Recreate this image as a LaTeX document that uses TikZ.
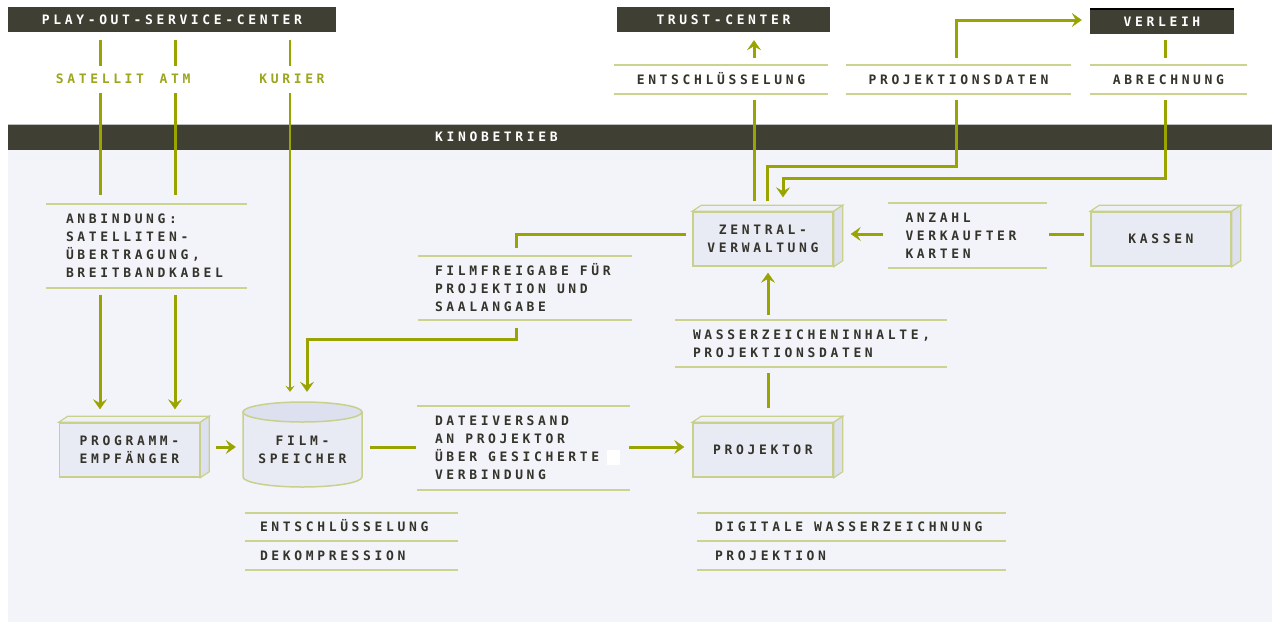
\documentclass[tikz,border=0pt]{standalone}
\usepackage{fontspec}
\newfontfamily\pix[LetterSpace=28]{DejaVu Sans Mono}
\usetikzlibrary{arrows.meta}

\definecolor{band}{HTML}{3F4033}
\definecolor{olive}{HTML}{9AA400}
\definecolor{olivetext}{HTML}{9CA61E}
\definecolor{rulecol}{HTML}{CBD38E}
\definecolor{kinobg}{HTML}{F3F4FA}
\definecolor{front}{HTML}{E9EBF4}
\definecolor{cubetopc}{HTML}{EEF0F7}
\definecolor{cubesidec}{HTML}{DDE0EE}
\definecolor{boxline}{HTML}{C9D08C}
\definecolor{ink}{HTML}{34342C}

% word gap for the tracked lettering
\newcommand\gap{\hspace*{11pt}}
% top and bottom rule of a text block
\newcommand\rules[1]{%
  \draw[rulestroke] (#1.north west) -- (#1.north east);
  \draw[rulestroke] (#1.south west) -- (#1.south east);}
% top and side faces of a box drawn in perspective
\newcommand\cubefaces[1]{%
  \filldraw[cubetop] (#1.north west) -- ([shift={(9,-6)}]#1.north west)
    -- ([shift={(9,-6)}]#1.north east) -- (#1.north east) -- cycle;
  \filldraw[cubeside] (#1.north east) -- ([shift={(9,-6)}]#1.north east)
    -- ([shift={(9,-6)}]#1.south east) -- (#1.south east) -- cycle;}

\begin{document}
\begin{tikzpicture}[x=1pt,y=-1pt,
  font=\pix\bfseries\fontsize{13}{18}\selectfont,
  every node/.style={text=ink},
  flow/.style={draw=olive, line width=3pt},
  thinflow/.style={draw=olive, line width=1.6pt},
  arr/.style={flow, -{Stealth[length=10pt,width=14pt,inset=4pt,line width=0.5pt]}},
  thinarr/.style={thinflow, -{Stealth[length=6pt,width=9pt,inset=2.5pt,line width=0.4pt]}},
  head/.style={fill=band, text=white, minimum height=25pt, inner sep=0pt, text height=9pt, text depth=0pt},
  lab/.style={text=olivetext, inner sep=0pt, text height=9pt, text depth=0pt},
  rulestroke/.style={draw=rulecol, line width=2.5pt},
  ruled/.style={inner ysep=0pt, align=left},
  oneline/.style={inner ysep=0pt, text height=9pt, text depth=0pt},
  cube/.style={draw=boxline, fill=front, line width=1.5pt, minimum width=140pt,
    minimum height=54pt, align=center, inner sep=0pt},
  cubetop/.style={draw=boxline, fill=cubetopc, line width=1.2pt},
  cubeside/.style={draw=boxline, fill=cubesidec, line width=1.2pt}]

\useasboundingbox (0,0) rectangle (1272,624);
\fill[white] (0,0) rectangle (1272,624);

% cinema area
\fill[kinobg] (8,150) rectangle (1272,622);
\draw[black!25, line width=1pt] (8,124.5) -- (1272,124.5);
\fill[band] (8,125) rectangle (1272,150);
\node[anchor=west, text=white, inner sep=0pt, text height=9pt, text depth=0pt] (kino) at (435,137) {KINOBETRIEB};

% external parties
\node[head, minimum width=328pt] (pos) at (172,19.5) {PLAY-OUT-SERVICE-CENTER};
\node[head, minimum width=213pt] (trust) at (723.5,19.5) {TRUST-CENTER};
\node[head, minimum width=144pt] (verleih) at (1162,21.5) {VERLEIH};
\draw[black, line width=1.5pt] (verleih.north west) -- (verleih.north east);

% delivery channels
\node[lab] (sat) at (100,79) {SATELLIT};
\node[lab] (atm) at (175,79) {ATM};
\node[lab] (kur) at (292,79) {KURIER};

% ruled text blocks
\node[oneline, minimum width=214pt, minimum height=29pt] (ents) at (721,79.5) {ENTSCHLÜSSELUNG};
\node[oneline, minimum width=225pt, minimum height=29pt] (projd) at (958.5,79.5) {PROJEKTIONSDATEN};
\node[oneline, minimum width=157pt, minimum height=29pt] (abr) at (1168.5,79.5) {ABRECHNUNG};
\rules{ents} \rules{projd} \rules{abr}

\node[ruled, text width=170pt, inner xsep=18pt, minimum height=84pt] (anb) at (151,246)
  {ANBINDUNG:\\SATELLITEN-\\ÜBERTRAGUNG,\\BREITBANDKABEL};
\node[ruled, text width=190pt, inner xsep=17pt, minimum height=64pt] (ffg) at (530,288)
  {FILMFREIGABE\gap FÜR\\PROJEKTION\gap UND\\SAALANGABE};
\node[ruled, text width=190pt, inner xsep=18pt, minimum height=84pt] (dv) at (530,448)
  {DATEIVERSAND\\AN\gap PROJEKTOR\\ÜBER\gap GESICHERTE\\VERBINDUNG};
\node[ruled, text width=236pt, inner xsep=18pt, minimum height=47pt] (wz) at (811,343.5)
  {WASSERZEICHENINHALTE,\\PROJEKTIONSDATEN};
\node[ruled, text width=124pt, inner xsep=17.5pt, minimum height=65pt] (anz) at (967.5,235.5)
  {ANZAHL\\VERKAUFTER\\KARTEN};
\draw[rulestroke] (46,204) -- (247,204); \draw[rulestroke] (46,288) -- (247,288);
\draw[rulestroke] (418,256) -- (632,256); \draw[rulestroke] (418,320) -- (632,320);
\draw[rulestroke] (417,406) -- (630,406); \draw[rulestroke] (417,490) -- (630,490);
\rules{wz} \rules{anz}
\fill[white] (607,450) rectangle (620,465);

\node[oneline, text width=183pt, inner xsep=15pt, minimum height=28pt, align=left] (dec1) at (351.5,527) {ENTSCHLÜSSELUNG};
\node[oneline, text width=183pt, inner xsep=15pt, minimum height=29pt, align=left] (dec2) at (351.5,555.5) {DEKOMPRESSION};
\node[oneline, text width=273pt, inner xsep=18pt, minimum height=28pt, align=left] (pj1) at (851.5,527) {DIGITALE\gap WASSERZEICHNUNG};
\node[oneline, text width=273pt, inner xsep=18pt, minimum height=29pt, align=left] (pj2) at (851.5,555.5) {PROJEKTION};
\rules{dec1} \rules{dec2} \rules{pj1} \rules{pj2}

% devices
\node[cube] (pe) at (129.5,450) {PROGRAMM-\\EMPFÄNGER};
\node[cube] (zv) at (763,239) {ZENTRAL-\\VERWALTUNG};
\node[cube] (proj) at (763,450) {PROJEKTOR};
\node[cube] (kas) at (1161,239) {KASSEN};
\cubefaces{pe} \cubefaces{zv} \cubefaces{proj} \cubefaces{kas}

% film storage drum
\filldraw[draw=boxline, fill=front, line width=1.5pt]
  (243,412) -- (243,477) arc[start angle=180, end angle=0, x radius=59.5, y radius=10] -- (362,412) -- cycle;
\filldraw[draw=boxline, fill=cubesidec, line width=1.5pt] (302.5,412) ellipse[x radius=59.5, y radius=10];
\node[inner sep=0pt, minimum width=119pt, minimum height=98pt, align=center] (fs) at (302.5,450) {FILM-\\SPEICHER};

% helper lanes for the connectors
\coordinate (mid) at (0,447);
\coordinate (vx) at (768,0);
\coordinate (hy) at (0,234);
\coordinate (cx) at (307,0);
\coordinate (ex) at (754,0);
\coordinate (px) at (767,0);
\coordinate (py) at (0,166);
\coordinate (qx) at (956,0);
\coordinate (vy) at (0,20);
\coordinate (rx) at (1165,0);
\coordinate (ry) at (0,178);
\coordinate (ax) at (783,0);
\coordinate (sx) at (100,0);
\coordinate (tx) at (175,0);
\coordinate (kx) at (290,0);

% delivery into the cinema
\foreach \c in {sx,tx} {
  \draw[flow, shorten <=8pt, shorten >=8pt] (\c |- pos.south) -- (\c |- sat.north);
  \draw[flow, shorten <=9.5pt, shorten >=9pt] (\c |- sat.south) -- (\c |- anb.north);
  \draw[arr, shorten <=7pt, shorten >=13pt] (\c |- anb.south) -- (\c |- pe.north);
}
\draw[thinflow, shorten <=8pt, shorten >=8pt] (kx |- pos.south) -- (kx |- kur.north);
\draw[thinarr, shorten <=9.5pt, shorten >=9pt] (kx |- kur.south) -- (kx |- fs.north);

% film path
\draw[arr, shorten <=16pt, shorten >=7pt] (pe.east |- mid) -- (fs.west |- mid);
\draw[flow, shorten <=8pt] (fs.east |- mid) -- (416,447);
\draw[arr, shorten >=8pt] (629,447) -- (proj.west |- mid);
\draw[flow, shorten <=14pt, shorten >=6pt] (vx |- proj.north) -- (vx |- wz.south);
\draw[arr, shorten <=5pt, shorten >=6pt] (vx |- wz.north) -- (vx |- zv.south);

% box office
\draw[flow, shorten <=6pt, shorten >=2pt] (kas.west |- hy) -- (anz.east |- hy);
\draw[arr, shorten <=5pt, shorten >=17pt] (anz.west |- hy) -- (zv.east |- hy);

% release of films
\draw[flow, shorten <=6pt] (zv.west |- hy) -| (516,248);
\draw[arr, shorten >=9pt] (516,328) -- (516,339) -| (cx |- fs.north);

% exchange with the outside parties
\draw[flow, shorten <=10pt, shorten >=6pt] (ex |- zv.north) -- (ex |- ents.south);
\draw[arr, shorten <=7pt, shorten >=8pt] (ex |- ents.north) -- (ex |- trust.south);
\draw[flow, shorten <=10pt, shorten >=6pt] (px |- zv.north) -- (px |- py) -| (qx |- projd.south);
\draw[arr, shorten <=7pt, shorten >=8pt] (qx |- projd.north) -- (qx |- vy) -- (verleih.west |- vy);
\draw[flow, shorten <=6pt, shorten >=7pt] (rx |- verleih.south) -- (rx |- abr.north);
\draw[arr, shorten <=6pt, shorten >=14pt] (rx |- abr.south) -- (rx |- ry) -| (ax |- zv.north);
\end{tikzpicture}
\end{document}
